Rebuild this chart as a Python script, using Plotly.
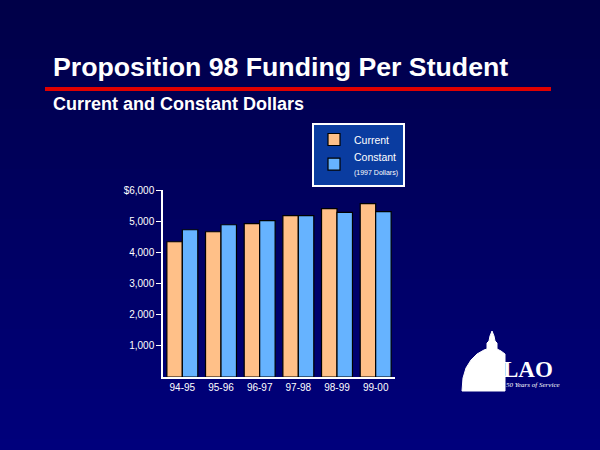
import plotly.graph_objects as go

categories = ["94-95", "95-96", "96-97", "97-98", "98-99", "99-00"]
current = [4340, 4660, 4920, 5175, 5400, 5560]
constant = [4725, 4885, 5015, 5175, 5280, 5305]
ytick_vals = [1000, 2000, 3000, 4000, 5000, 6000]
ytick_text = ["1,000", "2,000", "3,000", "4,000", "5,000", "$6,000"]

W, H = 600, 450
L, R, T, B = 163, 205, 190, 73
PW, PH = W - L - R, H - T - B

def px(x):
    return (x - L) / PW

def py(y):
    return 1 - (y - T) / PH

fig = go.Figure()
fig.add_trace(go.Bar(x=categories, y=current, name="Current",
                     marker=dict(color="#FFC088", line=dict(color="#000000", width=1.2))))
fig.add_trace(go.Bar(x=categories, y=constant,
                     name="Constant<br><span style='font-size:7px'>(1997 Dollars)</span>",
                     marker=dict(color="#66B3FF", line=dict(color="#000000", width=1.2))))

shapes = []
# vertical gradient background
n = 45
for i in range(n):
    t = i / (n - 1)
    b = int(72 + (124 - 72) * t)
    shapes.append(dict(type="rect", xref="paper", yref="paper",
                       x0=px(-5), x1=px(W + 5), y0=py(i * H / n + H / n + 1), y1=py(i * H / n - 1),
                       fillcolor=f"rgb(0,0,{b})", line=dict(width=0), layer="below"))
# red rule
shapes.append(dict(type="rect", xref="paper", yref="paper",
                   x0=px(45), x1=px(551), y0=py(91), y1=py(87),
                   fillcolor="#E00000", line=dict(width=0)))

# simple capitol dome logo
dome_pts = [(462, 391), (463, 378), (466, 368), (471, 360), (477, 354), (484, 350),
            (487, 349), (487, 343), (489, 341), (490, 336), (492, 331), (494, 336),
            (495, 341), (497, 343), (497, 349), (501, 351), (505, 354), (505, 391)]
path = "M " + " L ".join(f"{px(x)},{py(y)}" for x, y in dome_pts) + " Z"
shapes.append(dict(type="path", xref="paper", yref="paper", path=path,
                   fillcolor="white", line=dict(color="white", width=1), layer="below"))

def ann(text, x, y, size, family="Liberation Sans, Arial"):
    return dict(text=text, x=px(x), y=py(y), xref="paper", yref="paper",
                xanchor="left", yanchor="middle", showarrow=False,
                font=dict(family=family, size=size, color="white"))

annotations = [
    ann("<b>Proposition 98 Funding Per Student</b>", 51, 67, 26.7),
    ann("<b>Current and Constant Dollars</b>", 51, 104, 18),
    ann("<b>LAO</b>", 501, 369, 23, "Liberation Serif, Times New Roman"),
    ann("<i>50 Years of Service</i>", 504, 385, 7, "Liberation Serif"),
]

fig.update_layout(
    width=W, height=H,
    margin=dict(l=L, r=R, t=T, b=B, pad=0),
    paper_bgcolor="#000066",
    plot_bgcolor="rgba(0,0,0,0)",
    barmode="group", bargap=0.2, bargroupgap=0,
    font=dict(family="Liberation Sans, Arial", color="white", size=10),
    showlegend=True,
    legend=dict(x=px(312), y=py(123), xanchor="left", yanchor="top",
                bgcolor="#0A3CA0", bordercolor="white", borderwidth=2,
                font=dict(size=10.5, color="white"), tracegroupgap=2,
                itemwidth=30),
    xaxis=dict(showgrid=False, showline=True, linecolor="white", linewidth=1.5,
               ticks="", tickfont=dict(size=10, color="white"), fixedrange=True),
    yaxis=dict(range=[0, 6000], tickvals=ytick_vals, ticktext=ytick_text,
               showgrid=False, zeroline=False, showline=True, linecolor="white",
               linewidth=1.5, ticks="outside", ticklen=5, tickcolor="white",
               tickfont=dict(size=10, color="white")),
    shapes=shapes,
    annotations=annotations,
)

fig.write_html("out.html", config={"displayModeBar": False},
               post_script="document.body.style.margin='0';")
